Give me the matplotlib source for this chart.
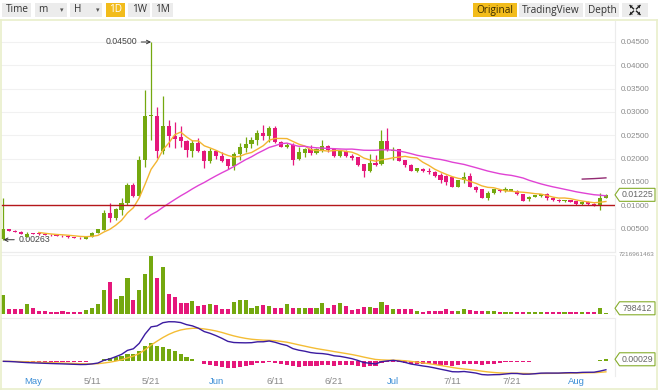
import matplotlib
matplotlib.use("Agg")
import matplotlib.pyplot as plt
import numpy as np
from matplotlib.patches import Rectangle, Polygon
from matplotlib.lines import Line2D
from matplotlib.transforms import blended_transform_factory

# ---------------- data ----------------
opens = [0.0027, 0.0049, 0.0046, 0.0043, 0.0033, 0.0040, 0.0040, 0.0038, 0.0037, 0.0036,
         0.0035, 0.0034, 0.0032, 0.0031, 0.0028, 0.0033, 0.0041, 0.0048, 0.0084, 0.0073,
         0.0090, 0.0104, 0.0144, 0.0119, 0.0197, 0.0291, 0.0291, 0.0217, 0.0269, 0.0249,
         0.0246, 0.0238, 0.0217, 0.0234, 0.0217, 0.0194, 0.0217, 0.0206, 0.0199, 0.0184,
         0.0210, 0.0222, 0.0231, 0.0239, 0.0256, 0.0249, 0.0266, 0.0236, 0.0226, 0.0229,
         0.0200, 0.0213, 0.0221, 0.0213, 0.0219, 0.0227, 0.0221, 0.0206, 0.0216, 0.0206,
         0.0203, 0.0188, 0.0174, 0.0191, 0.0188, 0.0238, 0.0217, 0.0220, 0.0197, 0.0187,
         0.0174, 0.0178, 0.0174, 0.0172, 0.0165, 0.0163, 0.0160, 0.0140, 0.0154, 0.0163,
         0.0140, 0.0135, 0.0116, 0.0127, 0.0133, 0.0130, 0.0131, 0.0131, 0.0124, 0.0113,
         0.0118, 0.0119, 0.0124, 0.0116, 0.0112, 0.0109, 0.0111, 0.0109, 0.0102, 0.0108,
         0.0103, 0.0099, 0.0116]
highs = [0.0115, 0.0050, 0.0047, 0.0044, 0.0042, 0.0041, 0.0041, 0.0039, 0.0038, 0.0037,
         0.0036, 0.0035, 0.0033, 0.0032, 0.0034, 0.0042, 0.0050, 0.0090, 0.0106, 0.0095,
         0.0115, 0.0147, 0.0147, 0.0205, 0.0347, 0.0450, 0.0311, 0.0335, 0.0283, 0.0279,
         0.0269, 0.0240, 0.0240, 0.0244, 0.0218, 0.0222, 0.0219, 0.0215, 0.0200, 0.0215,
         0.0233, 0.0247, 0.0247, 0.0261, 0.0272, 0.0269, 0.0269, 0.0237, 0.0233, 0.0233,
         0.0226, 0.0222, 0.0229, 0.0223, 0.0240, 0.0229, 0.0222, 0.0218, 0.0218, 0.0210,
         0.0204, 0.0189, 0.0210, 0.0208, 0.0261, 0.0265, 0.0226, 0.0221, 0.0198, 0.0188,
         0.0180, 0.0180, 0.0179, 0.0174, 0.0170, 0.0165, 0.0161, 0.0155, 0.0172, 0.0170,
         0.0141, 0.0136, 0.0131, 0.0136, 0.0134, 0.0139, 0.0136, 0.0132, 0.0125, 0.0120,
         0.0123, 0.0125, 0.0127, 0.0117, 0.0113, 0.0112, 0.0112, 0.0110, 0.0109, 0.0109,
         0.0105, 0.0127, 0.0124]
lows = [0.00263, 0.0045, 0.0042, 0.0038, 0.0032, 0.0038, 0.0037, 0.0036, 0.0035, 0.0034,
        0.0033, 0.0031, 0.0030, 0.0028, 0.0027, 0.0032, 0.0040, 0.0047, 0.0065, 0.0068,
        0.0080, 0.0100, 0.0117, 0.0117, 0.0183, 0.0240, 0.0201, 0.0211, 0.0226, 0.0222,
        0.0226, 0.0204, 0.0204, 0.0215, 0.0179, 0.0190, 0.0200, 0.0193, 0.0177, 0.0176,
        0.0197, 0.0215, 0.0222, 0.0229, 0.0240, 0.0236, 0.0233, 0.0225, 0.0222, 0.0186,
        0.0197, 0.0204, 0.0208, 0.0211, 0.0215, 0.0215, 0.0204, 0.0203, 0.0204, 0.0197,
        0.0184, 0.0160, 0.0172, 0.0184, 0.0186, 0.0217, 0.0197, 0.0195, 0.0183, 0.0173,
        0.0172, 0.0172, 0.0168, 0.0160, 0.0147, 0.0144, 0.0139, 0.0139, 0.0147, 0.0139,
        0.0129, 0.0115, 0.0111, 0.0124, 0.0129, 0.0129, 0.0130, 0.0123, 0.0109, 0.0110,
        0.0117, 0.0117, 0.0111, 0.0110, 0.0108, 0.0108, 0.0107, 0.0101, 0.0101, 0.0101,
        0.0098, 0.0091, 0.0115]
closes = [0.0049, 0.0046, 0.0043, 0.0039, 0.0039, 0.0039, 0.0038, 0.0037, 0.0036, 0.0035,
          0.0034, 0.0032, 0.0031, 0.0029, 0.0033, 0.0041, 0.0049, 0.0084, 0.0072, 0.0092,
          0.0104, 0.0144, 0.0119, 0.0197, 0.0291, 0.0293, 0.0217, 0.0269, 0.0249, 0.0242,
          0.0238, 0.0219, 0.0233, 0.0217, 0.0195, 0.0217, 0.0206, 0.0196, 0.0184, 0.0210,
          0.0226, 0.0231, 0.0239, 0.0256, 0.0249, 0.0266, 0.0236, 0.0226, 0.0229, 0.0197,
          0.0215, 0.0221, 0.0213, 0.0221, 0.0227, 0.0219, 0.0206, 0.0217, 0.0206, 0.0201,
          0.0187, 0.0174, 0.0191, 0.0186, 0.0238, 0.0219, 0.0219, 0.0196, 0.0186, 0.0174,
          0.0179, 0.0174, 0.0172, 0.0162, 0.0154, 0.0149, 0.0140, 0.0154, 0.0160, 0.0140,
          0.0133, 0.0116, 0.0127, 0.0134, 0.0130, 0.0136, 0.0135, 0.0124, 0.0110, 0.0118,
          0.0122, 0.0124, 0.0115, 0.0111, 0.0109, 0.0111, 0.0108, 0.0102, 0.0108, 0.0102,
          0.0099, 0.0116, 0.01225]
# volume in millions
volumes = [2294, 542, 542, 542, 1126, 709, 334, 292, 209, 209,
           292, 209, 209, 209, 417, 709, 1168, 2920, 3879, 1793,
           2169, 4379, 1668, 2920, 4922, 7216.961463, 4379, 5756, 2419, 2002,
           1335, 1251, 1543, 918, 1043, 1168, 1043, 542, 542, 1418,
           1627, 1627, 626, 918, 1043, 918, 709, 709, 1126, 709,
           709, 709, 626, 709, 1251, 709, 1043, 1251, 959, 417,
           500, 834, 834, 626, 1376, 1043, 542, 500, 500, 500,
           292, 209, 292, 334, 334, 542, 334, 334, 542, 417,
           334, 334, 334, 334, 167, 167, 167, 167, 167, 167,
           167, 167, 167, 167, 167, 167, 167, 167, 209, 167,
           209, 709, 0.798412]
hline_price = 0.0101
x_tick_pos = [5, 15, 25, 36, 46, 56, 66, 76, 86, 97]
x_tick_labels = ["May", "5/11", "5/21", "Jun", "6/11", "6/21", "Jul", "7/11", "7/21", "Aug"]
price_ticks = [0.005, 0.010, 0.015, 0.020, 0.025, 0.030, 0.035, 0.040, 0.045]
ma_periods = [7, 25, 99]

# ---------------- helpers ----------------
o = np.array(opens); h = np.array(highs); l = np.array(lows); c = np.array(closes)
v = np.array(volumes)
n = len(c)
idx = np.arange(n)

GREEN = '#74a80f'
PINK = '#e5177b'
up = c >= o
cols = np.where(up, GREEN, PINK)

def sma(x, p):
    out = np.full(len(x), np.nan)
    for i in range(p - 1, len(x)):
        out[i] = x[i - p + 1:i + 1].mean()
    return out

def ema(x, p):
    a = 2.0 / (p + 1)
    out = np.empty(len(x))
    out[0] = x[0]
    for i in range(1, len(x)):
        out[i] = a * x[i] + (1 - a) * out[i - 1]
    return out

dif = ema(c, 12) - ema(c, 26)
dea = ema(dif, 9)
hist = dif - dea

W, H = 658, 390
fig = plt.figure(figsize=(W / 100, H / 100), dpi=100)
fig.patch.set_facecolor('white')

def rect_px(x0, y0, x1, y1):
    return [x0 / W, 1 - y1 / H, (x1 - x0) / W, (y1 - y0) / H]

def px_rect(x0, y0, x1, y1, **kw):
    fig.add_artist(Rectangle((x0 / W, 1 - y1 / H), (x1 - x0) / W, (y1 - y0) / H,
                             transform=fig.transFigure, **kw))

def px_text(x, y, s, **kw):
    fig.text(x / W, 1 - y / H, s, **kw)

def px_line(xs, ys, **kw):
    fig.add_artist(Line2D([x / W for x in xs], [1 - y / H for y in ys],
                          transform=fig.transFigure, **kw))

AXF = 'Liberation Sans'
UIF = 'Open Sans'
GRAY = '#8a8a8a'

X0, X1 = 1, 615
x_step = 5.907
x_first = 3.4
xlim = ((X0 - x_first) / x_step, (X1 - x_first) / x_step)

def style_axes(ax):
    ax.set_xlim(*xlim)
    ax.set_facecolor('white')
    for s in ['left', 'top', 'bottom']:
        ax.spines[s].set_visible(False)
    ax.spines['right'].set_color('#ececec')
    ax.spines['right'].set_linewidth(0.8)
    ax.set_xticks([])
    ax.yaxis.tick_right()
    ax.tick_params(axis='y', length=0, pad=4, labelsize=5.8, labelcolor=GRAY)

# ---------------- main price panel ----------------
ax = fig.add_axes(rect_px(X0, 21, X1, 252))
style_axes(ax)
ax.set_ylim(0.0, 0.045 + 21 / 4667)
ax.set_yticks(price_ticks)
ax.set_yticklabels([f"{t:.5f}" for t in price_ticks], fontfamily=AXF)
ax.grid(axis='y', color='#f1f1f1', lw=0.8)
ax.set_axisbelow(True)
ax.spines['bottom'].set_visible(True)
ax.spines['bottom'].set_color('#ececec')

ax.vlines(idx, l, h, colors=cols, lw=0.9, zorder=3)
body_lo = np.minimum(o, c)
body_h = np.maximum(np.abs(c - o), 0.00012)
ax.bar(idx, body_h, bottom=body_lo, width=0.7, color=cols, lw=0, zorder=4)

ma_colors = ['#f3b531', '#e043d4', '#922a72']
for p, col in zip(ma_periods, ma_colors):
    ax.plot(idx, sma(c, p), color=col, lw=1.0, zorder=5)

ax.axhline(hline_price, color='#b5171b', lw=1.0, zorder=6)

imax = int(np.argmax(h)); imin = int(np.argmin(l))
ax.annotate(f"{h[imax]:.5f}", xy=(imax, h[imax]), xytext=(-14, 0), textcoords='offset pixels',
            ha='right', va='center', fontsize=6.3, color='#444', fontfamily=AXF,
            arrowprops=dict(arrowstyle='->', color='#333', lw=0.7, shrinkA=1, shrinkB=0))
ax.annotate(f"{l[imin]:.5f}", xy=(imin, l[imin]), xytext=(15, 0), textcoords='offset pixels',
            ha='left', va='center', fontsize=6.3, color='#444', fontfamily=AXF,
            arrowprops=dict(arrowstyle='->', color='#333', lw=0.7, shrinkA=1, shrinkB=0),
            annotation_clip=False)

def tag(axis, value, text, fs=6.3):
    yd = axis.transData.transform((0, value))[1]
    xr = X1
    pts = [(xr, yd), (xr + 4.5, yd + 6.5), (655, yd + 6.5), (655, yd - 6.5), (xr + 4.5, yd - 6.5)]
    fig.add_artist(Polygon(pts, closed=True, transform=None, facecolor='white',
                           edgecolor='#86ad2c', lw=0.8, zorder=20))
    fig.text((xr + 4.5 + 655) / 2 / W, yd / H, text, ha='center', va='center', fontsize=fs,
             color='#666', fontfamily=AXF, zorder=21)

tag(ax, c[-1], f"{c[-1]:.5f}")

# ---------------- volume panel ----------------
axv = fig.add_axes(rect_px(X0, 255.5, X1, 313.5))
style_axes(axv)
axv.set_ylim(0, v.max())
axv.set_yticks([])
axv.bar(idx, v, width=0.7, color=cols, lw=0)
px_text(637, 254.5, f"{int(round(v.max() * 1e6))}", ha='center', va='center', fontsize=4.6,
        color=GRAY, fontfamily=AXF)
tag(axv, max(v[-1], v.max() * 0.09), f"{int(round(v[-1] * 1e6))}")

px_line([X0, X1], [252, 252], color='#ececec', lw=0.8)
px_line([X0, X1], [255, 255], color='#f2f2f2', lw=0.8)

# ---------------- MACD panel ----------------
axm = fig.add_axes(rect_px(X0, 318, X1, 376))
style_axes(axm)
hi = max(dif.max(), dea.max(), hist.max())
lo = min(dif.min(), dea.min(), hist.min())
axm.set_ylim(lo - (hi - lo) * 0.02, hi + (hi - lo) * 0.07)
axm.set_yticks([])
hcols = np.where(hist >= 0, GREEN, PINK)
axm.bar(idx, hist, width=0.7, color=hcols, lw=0)
axm.plot(idx, dea, color='#f4bd35', lw=1.0)
axm.plot(idx, dif, color='#3b1ba0', lw=1.0)
tag(axm, hist[-1], f"{hist[-1]:.5f}")
px_line([X0, X1], [318, 318], color='#ececec', lw=0.8)

# x labels
xt = blended_transform_factory(axm.transData, fig.transFigure)
for pos, lab in zip(x_tick_pos, x_tick_labels):
    colr = '#3d8fd6' if not lab[0].isdigit() else GRAY
    fig.text(pos, 1 - 381.5 / H, lab, transform=xt, ha='center', va='center',
             fontsize=6.8, color=colr, fontfamily=AXF)

# ---------------- frame ----------------
frame = '#e9efcb'
px_line([0, 658], [20, 20], color=frame, lw=1.2)
px_line([1.0, 1.0], [20, 389], color=frame, lw=1.2)
px_line([656.5, 656.5], [20, 389], color=frame, lw=1.2)
px_line([0, 658], [388.5, 388.5], color=frame, lw=1.2)

# ---------------- toolbar ----------------
BTN = '#ececec'
YEL = '#f2bc1b'
px_rect(2, 3, 31, 17, facecolor=BTN, lw=0)
px_text(17, 10, "Time", ha='center', va='center', fontsize=7.2, color='#333', fontfamily=UIF)
px_rect(35, 3, 67, 17, facecolor=BTN, lw=0)
px_text(43, 10, "m", ha='center', va='center', fontsize=7.2, color='#333', fontfamily=UIF)
px_text(62, 10, "▾", ha='center', va='center', fontsize=5, color='#555', fontfamily='DejaVu Sans')
px_rect(70, 3, 102, 17, facecolor=BTN, lw=0)
px_text(77.5, 10, "H", ha='center', va='center', fontsize=7.2, color='#333', fontfamily=UIF)
px_text(98, 10, "▾", ha='center', va='center', fontsize=5, color='#555', fontfamily='DejaVu Sans')
px_rect(106, 3, 125, 17, facecolor=YEL, lw=0)
px_text(115.5, 10, "1D", ha='center', va='center', fontsize=7.2, color='white', fontfamily=UIF)
px_rect(128, 3, 150, 17, facecolor=BTN, lw=0)
px_text(139.5, 10, "1W", ha='center', va='center', fontsize=7.2, color='#333', fontfamily=UIF)
px_rect(152, 3, 173, 17, facecolor=BTN, lw=0)
px_text(163, 10, "1M", ha='center', va='center', fontsize=7.2, color='#333', fontfamily=UIF)

px_rect(473, 3, 517, 17, facecolor=YEL, lw=0)
px_text(495, 10, "Original", ha='center', va='center', fontsize=7.2, color='#3a2a00', fontfamily=UIF)
px_rect(519, 3, 583, 17, facecolor=BTN, lw=0)
px_text(551, 10, "TradingView", ha='center', va='center', fontsize=7.2, color='#333', fontfamily=UIF)
px_rect(585, 3, 619, 17, facecolor=BTN, lw=0)
px_text(602, 10, "Depth", ha='center', va='center', fontsize=7.2, color='#333', fontfamily=UIF)
px_rect(622, 3, 648, 17, facecolor=BTN, lw=0)
# expand icon: four outward corner arrows
cx, cy = 635, 10
for sx in (-1, 1):
    for sy in (-1, 1):
        tipx, tipy = cx + sx * 5, cy + sy * 4.5
        px_line([cx + sx * 1.5, tipx], [cy + sy * 1.2, tipy], color='#222', lw=1.0)
        tri = [(tipx / W, 1 - tipy / H),
               ((tipx - sx * 3) / W, 1 - tipy / H),
               (tipx / W, 1 - (tipy - sy * 3) / H)]
        fig.add_artist(Polygon(tri, closed=True, transform=fig.transFigure,
                               facecolor='#222', lw=0))

fig.savefig('out.png', dpi=100)
